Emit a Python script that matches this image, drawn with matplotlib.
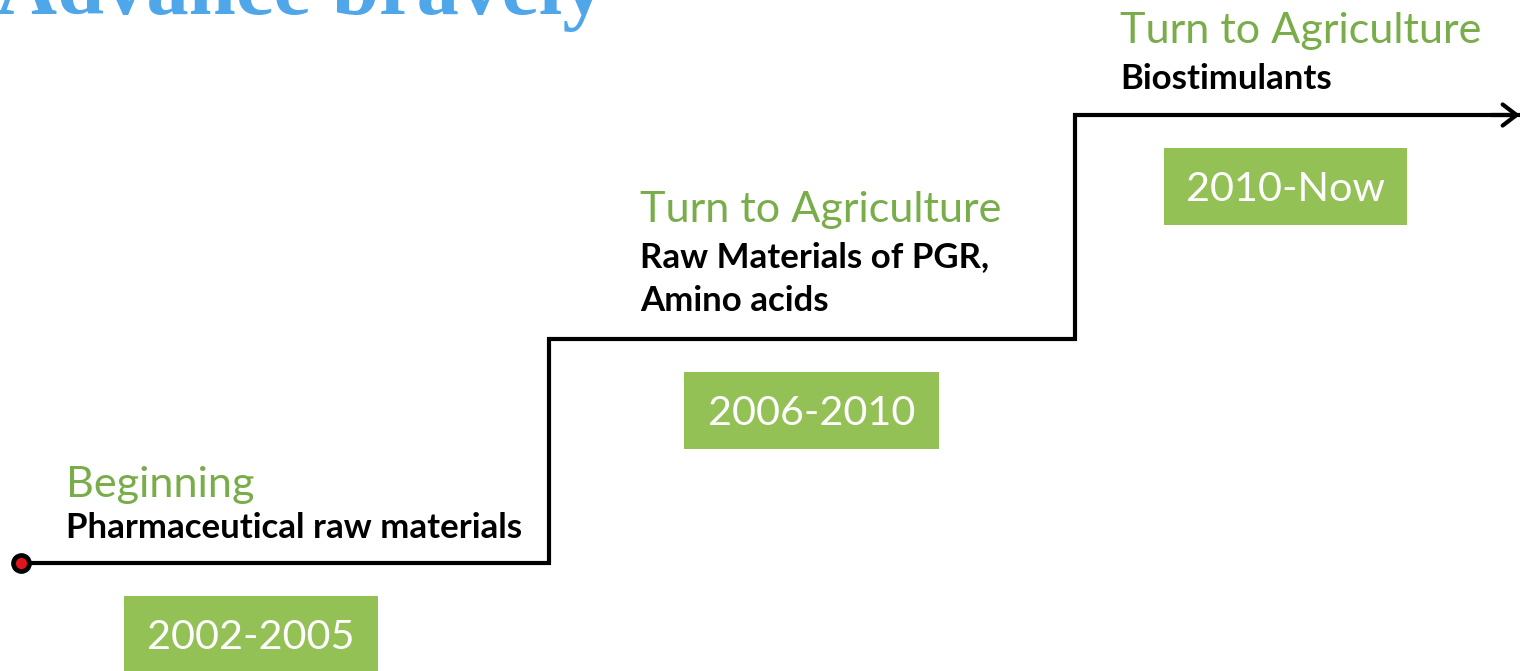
import matplotlib
matplotlib.use('Agg')
import matplotlib.pyplot as plt
from matplotlib.patches import Rectangle

# timeline content
title = 'Advance bravely'
periods = ['2002-2005', '2006-2010', '2010-Now']
stages = ['Beginning', 'Turn to Agriculture', 'Turn to Agriculture']
products = [['Pharmaceutical raw materials'],
            ['Raw Materials of PGR,', 'Amino acids'],
            ['Biostimulants']]

# step layout (in step units: x = stage index, y = level)
step_x = [0, 1, 2]
step_y = [0, 1, 2]
line_end = 2.848
head_dx = [0.081, 0.173, 0.087]
head_dy = [0.295, 0.522, 0.321]
prod_dy = [0.112, 0.321, 0.116]
box_dx = [0.191, 0.257, 0.170]
box_w = [0.483, 0.485, 0.462]
box_top = -0.147
box_h = 0.344
line_gap = 0.196

blue = '#4FA7EA'
green_txt = '#79AD4A'
green_box = '#93C155'

fig = plt.figure(figsize=(15.24, 6.71), dpi=100)
ax = fig.add_axes([0, 0, 1, 1])
ax.set_xlim(-23.5 / 525.5, (1524 - 23.5) / 525.5)
ax.set_ylim((563 - 671) / 224, 563 / 224)
ax.axis('off')
renderer = fig.canvas.get_renderer()


def fit_size(text, width_px, **kw):
    t = fig.text(0, 0, text, fontsize=20, **kw)
    w = t.get_window_extent(renderer).width
    t.remove()
    return 20 * width_px / w


title_fs = fit_size(title, 609, family='Liberation Serif', weight='bold')
head_fs = fit_size('Turn to Agriculture', 363, family='Lato')
prod_fs = fit_size('Pharmaceutical raw materials', 456, family='Lato', weight='bold')
box_fs = fit_size('2006-2010', 207, family='Lato')

# title (cut off at top like the original slide)
ax.text(-0.052, 2.451, title, fontsize=title_fs, family='Liberation Serif',
        weight='bold', color=blue, va='baseline', ha='left')

# step line
xs = step_x + [line_end]
ys = step_y + [step_y[-1]]
ax.plot(xs, ys, drawstyle='steps-post', color='black', lw=3,
        solid_joinstyle='miter', solid_capstyle='butt', zorder=2)
ax.annotate('', xy=(line_end + 0.005, step_y[-1]), xytext=(line_end - 0.06, step_y[-1]),
            arrowprops=dict(arrowstyle='->,head_length=0.5,head_width=0.38',
                            color='black', lw=3, mutation_scale=20))
ax.plot([-0.005], [0], 'o', ms=11.5, mfc='#E0141E', mec='black', mew=3.4, zorder=3)

for i in range(len(periods)):
    x0 = step_x[i]
    lvl = step_y[i]
    ax.text(x0 + head_dx[i], lvl + head_dy[i], stages[i], fontsize=head_fs,
            family='Lato', color=green_txt, va='baseline', ha='left')
    for j, line in enumerate(products[i]):
        ax.text(x0 + head_dx[i], lvl + prod_dy[i] - j * line_gap, line,
                fontsize=prod_fs, family='Lato', weight='bold', color='black',
                va='baseline', ha='left')
    bx = x0 + box_dx[i]
    by = lvl + box_top - box_h
    ax.add_patch(Rectangle((bx, by), box_w[i], box_h, facecolor=green_box,
                           edgecolor='none', zorder=1))
    ax.text(bx + box_w[i] / 2, by + box_h / 2 - 0.067, periods[i], fontsize=box_fs,
            family='Lato', color='white', va='baseline', ha='center')

fig.savefig('out.png', dpi=100)
